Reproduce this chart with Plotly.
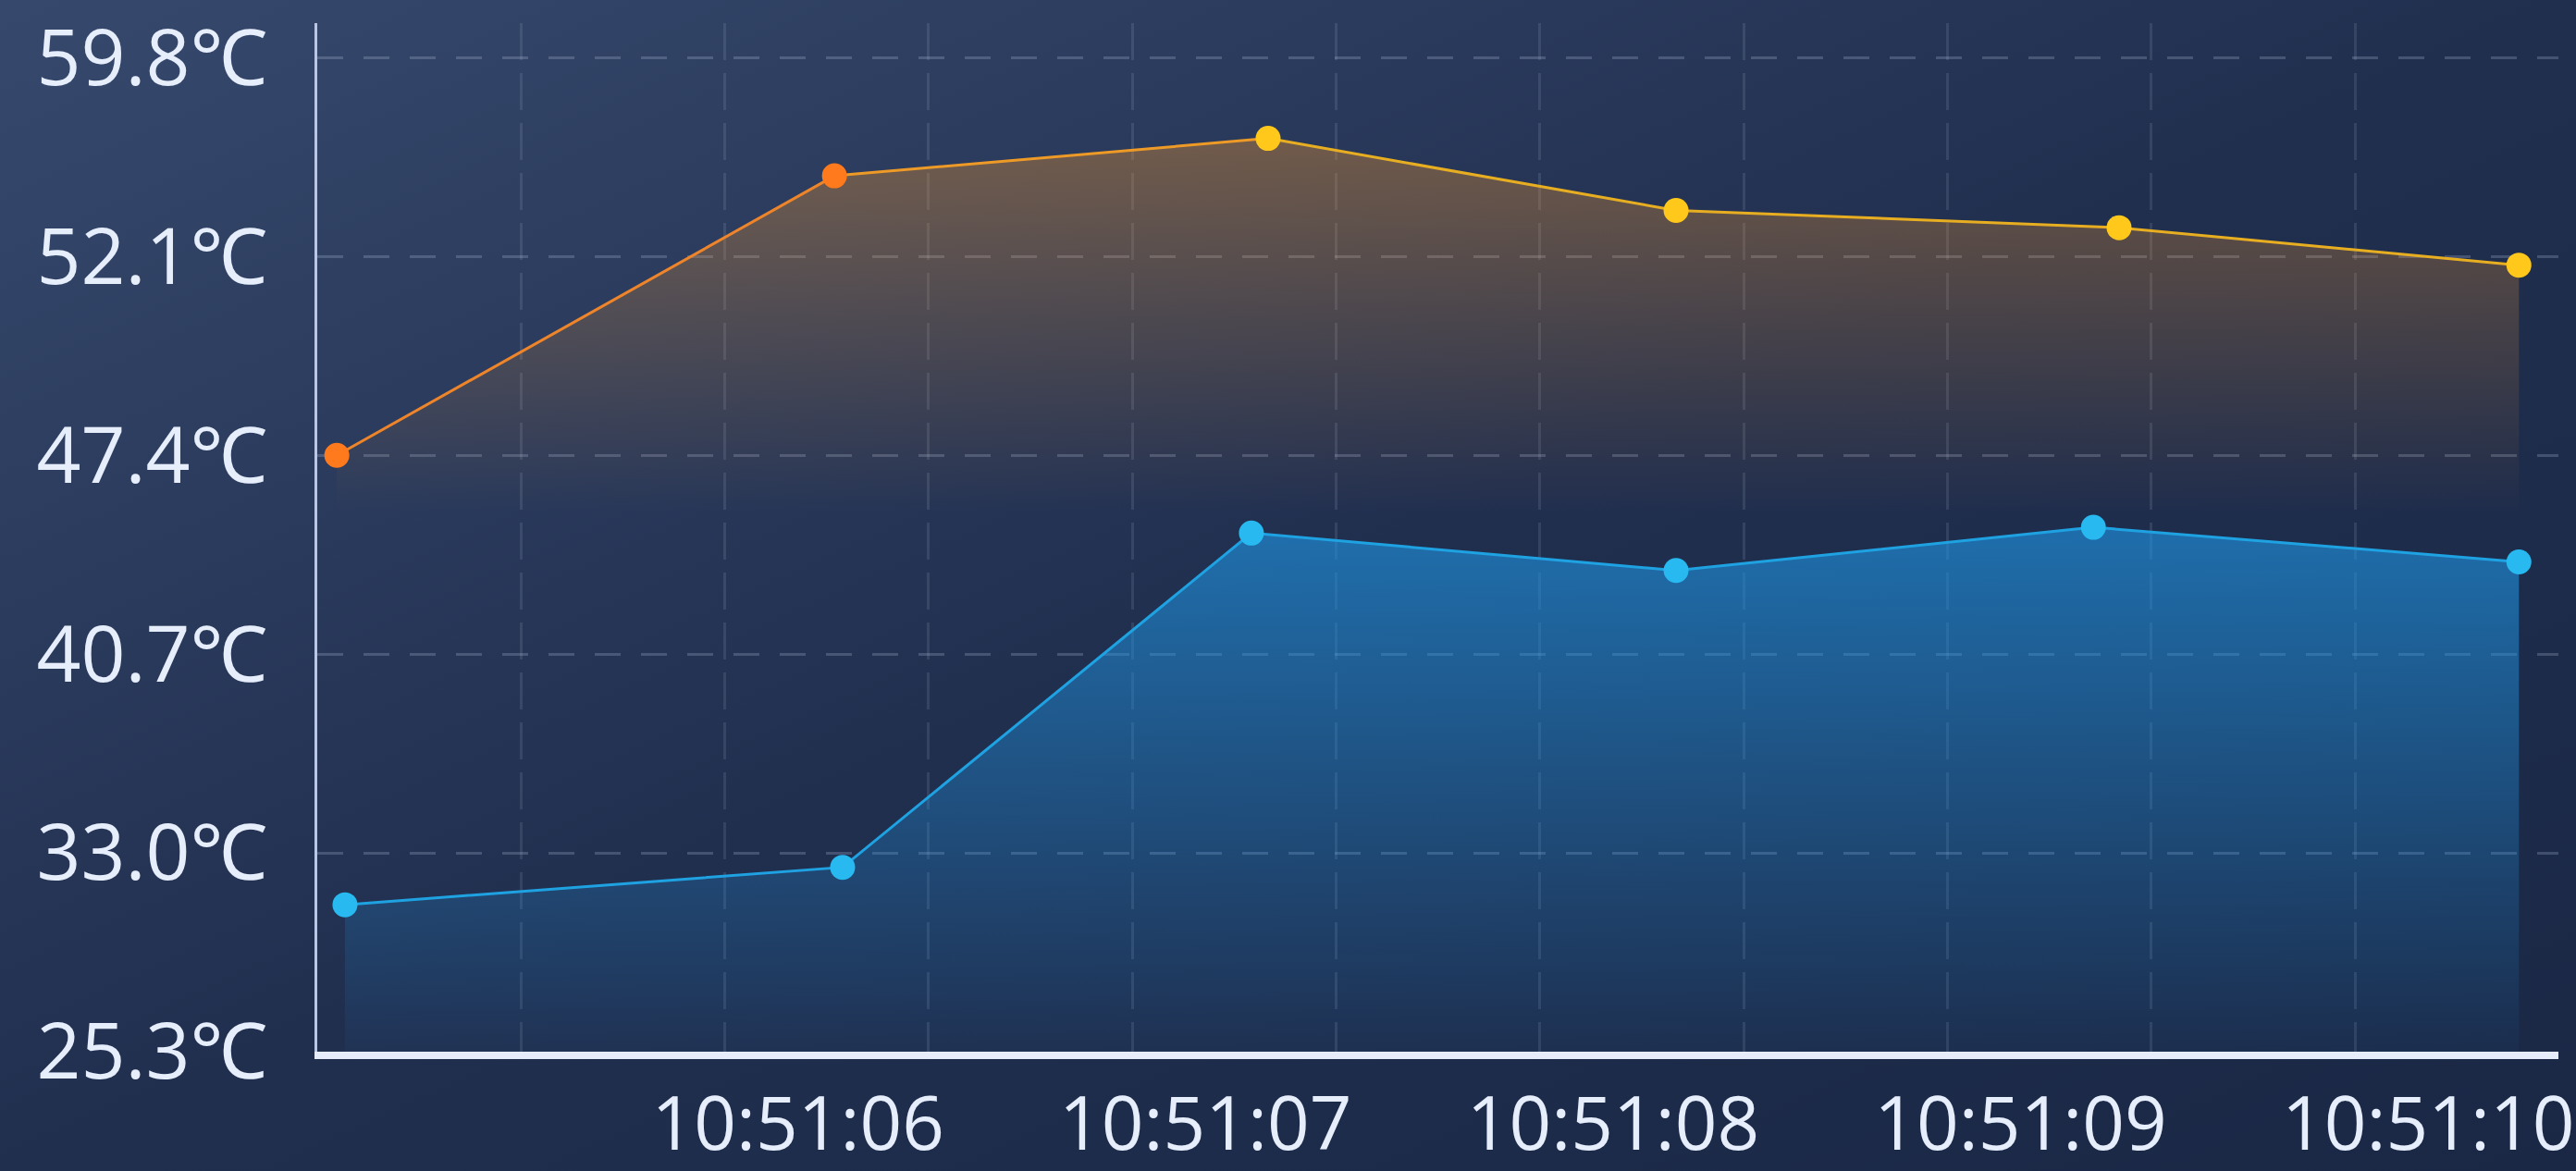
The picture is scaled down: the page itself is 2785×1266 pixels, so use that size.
import base64
import plotly.graph_objects as go

# ---------------- data ----------------
DAY = "2024-01-01"
upper_times = ["10:51:05.048", "10:51:06.269", "10:51:07.333", "10:51:08.334", "10:51:09.421", "10:51:10.402"]
upper_temps = [46.0, 55.7, 57.0, 54.5, 53.9, 52.6]
lower_times = ["10:51:05.068", "10:51:06.289", "10:51:07.292", "10:51:08.334", "10:51:09.358", "10:51:10.402"]
lower_temps = [30.4, 31.7, 43.3, 42.0, 43.5, 42.3]
x_tick_labels = ["10:51:06", "10:51:07", "10:51:08", "10:51:09", "10:51:10"]
y_tick_labels = ["25.3℃", "33.0℃", "40.7℃", "47.4℃", "52.1℃", "59.8℃"]
y_min, y_step, y_top = 25.3, 6.9, 61.0
x_start, x_end = "10:51:05", "10:51:10.499"

# ---------------- styles ----------------
W, H = 2785, 1266
upper_marker_colors = ["#ff7a1c", "#ff7a1c", "#ffc81a", "#ffc81a", "#ffc81a", "#ffc81a"]
upper_segment_colors = ["#ef852a", "#ee9a27", "#e8ae22", "#e8ae22", "#e8ae22"]
lower_color = "#1fa2e2"
lower_marker = "#27b9f0"
text_color = "#e6edfb"
FONT = "Open Sans, Noto Sans, DejaVu Sans, sans-serif"

ux = [f"{DAY} {t}" for t in upper_times]
lx = [f"{DAY} {t}" for t in lower_times]

fig = go.Figure()

# upper series: gradient area
fig.add_trace(go.Scatter(
    x=ux, y=upper_temps, mode="lines", line=dict(width=0, color="rgba(0,0,0,0)"),
    fill="tozeroy",
    fillgradient=dict(type="vertical", start=44.0, stop=max(upper_temps),
                      colorscale=[[0, "rgba(240,150,45,0)"], [1, "rgba(240,150,45,0.36)"]]),
    hoverinfo="skip", showlegend=False))

# upper series line segments (orange -> yellow)
for i in range(len(ux) - 1):
    fig.add_trace(go.Scatter(
        x=ux[i:i + 2], y=upper_temps[i:i + 2], mode="lines",
        line=dict(width=3, color=upper_segment_colors[i]),
        hoverinfo="skip", showlegend=False))

# lower series: gradient area + line
fig.add_trace(go.Scatter(
    x=lx, y=lower_temps, mode="lines", line=dict(width=3, color=lower_color),
    fill="tozeroy",
    fillgradient=dict(type="vertical", start=y_min, stop=max(lower_temps),
                      colorscale=[[0, "rgba(30,150,230,0.04)"], [1, "rgba(30,150,230,0.62)"]]),
    showlegend=False))

# markers
fig.add_trace(go.Scatter(
    x=ux, y=upper_temps, mode="markers",
    marker=dict(size=27, color=upper_marker_colors, line=dict(width=0)),
    showlegend=False))
fig.add_trace(go.Scatter(
    x=lx, y=lower_temps, mode="markers",
    marker=dict(size=27, color=lower_marker, line=dict(width=0)),
    showlegend=False))

# background gradient
svg = (f'<svg xmlns="http://www.w3.org/2000/svg" width="{W}" height="{H}" '
       f'viewBox="0 0 {W} {H}" preserveAspectRatio="none">'
       '<defs><linearGradient id="g" x1="0" y1="0" x2="1" y2="1">'
       '<stop offset="0" stop-color="#36496d"/>'
       '<stop offset="0.5" stop-color="#212f4f"/>'
       '<stop offset="1" stop-color="#1a2846"/>'
       '</linearGradient></defs>'
       f'<rect x="0" y="0" width="{W}" height="{H}" fill="url(#g)"/></svg>')
bg_src = "data:image/svg+xml;base64," + base64.b64encode(svg.encode()).decode()

y_tickvals = [round(y_min + i * y_step, 2) for i in range(len(y_tick_labels))]

fig.update_layout(
    width=W, height=H,
    margin=dict(l=0, r=0, t=0, b=0),
    paper_bgcolor="#1c2a48",
    plot_bgcolor="rgba(0,0,0,0)",
    font=dict(family=FONT, color=text_color, size=84),
    hovermode="closest",
    images=[dict(source=bg_src, xref="paper", yref="paper", x=0, y=1, sizex=1, sizey=1,
                 xanchor="left", yanchor="top", sizing="stretch", layer="below")],
    xaxis=dict(
        type="date",
        domain=[343 / W, 2766 / W],
        range=[f"{DAY} {x_start}", f"{DAY} {x_end}"],
        tickmode="array",
        tickvals=[f"{DAY} {t}" for t in x_tick_labels],
        ticktext=x_tick_labels,
        ticks="",
        ticklabelshift=79,
        ticklabelstandoff=2,
        ticklabeloverflow="allow",
        tickfont=dict(size=80, color=text_color, family=FONT),
        showgrid=True, gridcolor="rgba(190,205,235,0.13)", gridwidth=3, griddash="40px,14px",
        minor=dict(tick0=f"{DAY} 10:51:05.5", dtick=1000, showgrid=True,
                   gridcolor="rgba(190,205,235,0.13)", gridwidth=3, griddash="40px,14px", ticks=""),
        showline=True, linecolor="#e6ecfa", linewidth=8,
        zeroline=False, automargin=False, fixedrange=True,
    ),
    yaxis=dict(
        domain=[(H - 1137) / H, (H - 25) / H],
        range=[y_min, y_top],
        tickmode="array",
        tickvals=y_tickvals,
        ticktext=y_tick_labels,
        ticks="",
        ticklabelstandoff=34,
        tickfont=dict(size=84, color=text_color, family=FONT),
        showgrid=True, gridcolor="rgba(200,215,240,0.22)", gridwidth=3, griddash="28px,22px",
        showline=True, linecolor="#b9c6e6", linewidth=3,
        zeroline=False, automargin=False, fixedrange=True,
    ),
)

fig.write_html("out.html", config={"displayModeBar": False},
               post_script="document.body.style.margin='0';document.body.style.overflow='hidden';")
